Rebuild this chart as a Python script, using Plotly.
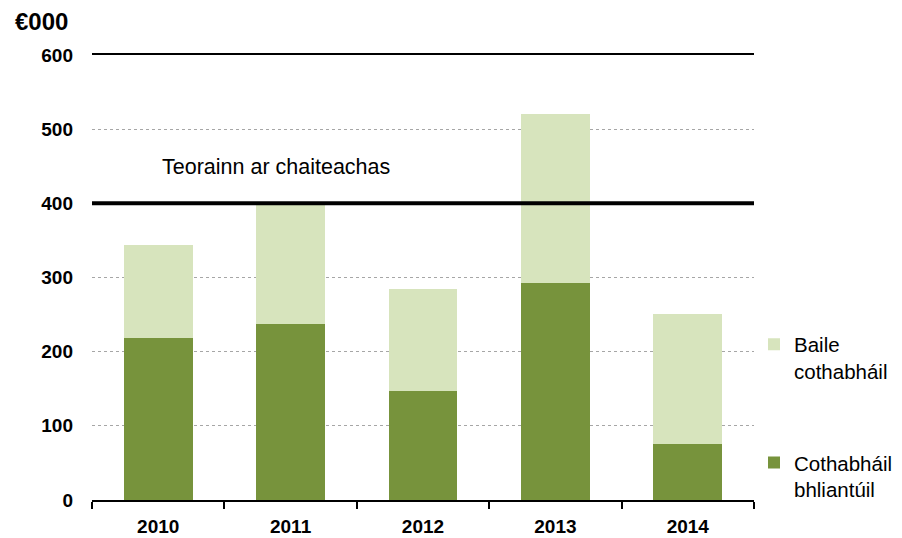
import plotly.graph_objects as go

years = ["2010", "2011", "2012", "2013", "2014"]
annual_maintenance = [218, 237, 147, 292, 76]   # Cothabháil bhliantúil
maintenance_balance = [126, 161, 138, 228, 175]  # Baile cothabháil
spending_limit = 400
y_ticks = [0, 100, 200, 300, 400, 500, 600]

DARK = "#77933C"
LIGHT = "#D7E4BD"
FONT = "Liberation Sans, Arial, sans-serif"

fig = go.Figure()
fig.add_trace(go.Bar(
    x=years, y=annual_maintenance, name="Cothabháil<br>bhliantúil",
    marker=dict(color=DARK, line=dict(width=0)), legendgroup="a",
    legendrank=2, showlegend=True,
))
fig.add_trace(go.Bar(
    x=years, y=maintenance_balance, name="Baile<br>cothabháil",
    marker=dict(color=LIGHT, line=dict(width=0)), legendgroup="b",
    legendrank=1, showlegend=True,
))

fig.add_shape(type="line", xref="paper", x0=0, x1=1, yref="y",
              y0=spending_limit, y1=spending_limit,
              line=dict(color="black", width=4), layer="above")

fig.add_annotation(text="Teorainn ar chaiteachas", xref="paper", yref="y",
                   x=0.1027, y=spending_limit + 49, xanchor="left", yanchor="middle",
                   showarrow=False, font=dict(size=21.5, color="black", family=FONT))
fig.add_annotation(text="<b>€000</b>", xref="paper", yref="paper",
                   x=-0.120, y=1.076, xanchor="left", yanchor="middle",
                   showarrow=False, font=dict(size=24, color="black", family=FONT))

# page body has an 8px margin, so the figure is 8px smaller than the window
fig.update_layout(
    width=894, height=530,
    barmode="stack", bargap=0.48,
    plot_bgcolor="white", paper_bgcolor="white",
    margin=dict(l=84, r=148, t=47, b=38, autoexpand=False),
    font=dict(family=FONT, color="black"),
    showlegend=True,
    legend=dict(x=1.0, y=0.3946, xanchor="left", yanchor="top", valign="top",
                traceorder="grouped", tracegroupgap=62,
                font=dict(size=20.5, family=FONT), itemwidth=30,
                bgcolor="rgba(0,0,0,0)"),
    xaxis=dict(
        showline=True, linecolor="black", linewidth=2, mirror=True,
        ticks="outside", tickson="boundaries", ticklen=7, tickwidth=2,
        tickcolor="black", showgrid=False,
        tickfont=dict(size=19, family=FONT, weight="bold"),
        ticklabelstandoff=8,
    ),
    yaxis=dict(
        range=[0, 600], tickvals=y_ticks, showline=False, zeroline=False,
        showgrid=True, gridcolor="#a6a6a6", gridwidth=1, griddash="dot",
        tickfont=dict(size=19, family=FONT, weight="bold"),
        ticklabelstandoff=18,
    ),
)

fig.write_html("out.html")
